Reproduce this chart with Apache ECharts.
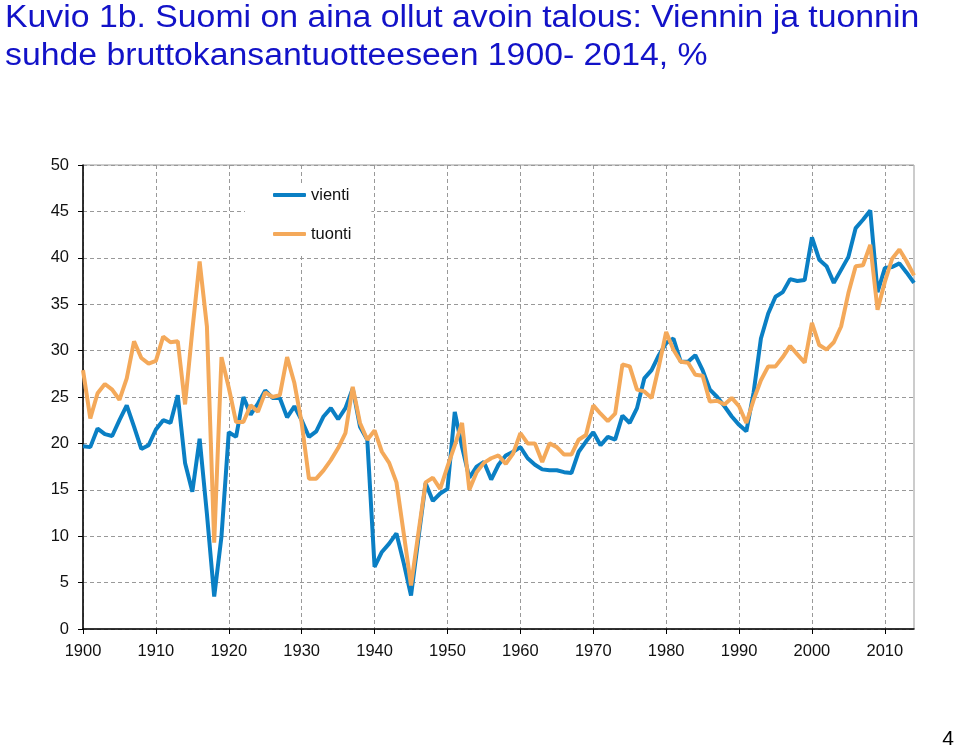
<!DOCTYPE html>
<html>
<head>
<meta charset="utf-8">
<script src="https://cdn.jsdelivr.net/npm/echarts@6/dist/echarts.min.js"></script>
<style>
html,body{margin:0;padding:0;background:#fff;}
#chart{width:960px;height:750px;}
</style>
</head>
<body>
<div id="chart"></div>
<script>
var titleLine1 = 'Kuvio 1b. Suomi on aina ollut avoin talous: Viennin ja tuonnin';
var titleLine2 = 'suhde bruttokansantuotteeseen 1900- 2014, %';
var seriesNames = ['vienti', 'tuonti'];
var firstYear = 1900, lastYear = 2014;
var years = [];
for (var y = firstYear; y <= lastYear; y++) years.push(String(y));

var vienti = [
  19.7, 19.6, 21.6, 21.0, 20.8, 22.5, 24.1, 21.8, 19.4, 19.8,
  21.5, 22.5, 22.2, 25.2, 17.9, 14.8, 20.5, 12.4, 3.5, 10.0,
  21.2, 20.7, 25.0, 23.1, 24.3, 25.7, 24.9, 24.9, 22.8, 24.0,
  22.5, 20.7, 21.3, 22.9, 23.8, 22.6, 23.8, 25.9, 21.8, 20.4,
  6.7, 8.3, 9.2, 10.3, 7.1, 3.6, 9.7, 15.7, 13.8, 14.6,
  15.1, 23.4, 19.6, 16.3, 17.5, 18.0, 16.1, 17.7, 18.7, 19.1,
  19.6, 18.4, 17.7, 17.2, 17.1, 17.1, 16.9, 16.8, 19.1, 20.2,
  21.2, 19.8, 20.7, 20.4, 23.0, 22.2, 23.8, 27.0, 27.9, 29.5,
  30.8, 31.3, 28.8, 28.8, 29.5, 27.9, 25.8, 25.0, 24.0, 22.9,
  22.0, 21.3, 25.5, 31.3, 34.0, 35.8, 36.3, 37.7, 37.5, 37.6,
  42.2, 39.8, 39.1, 37.3, 38.7, 40.1, 43.2, 44.1, 45.1, 36.3,
  38.9, 39.0, 39.4, 38.4, 37.3
];
var tuonti = [
  27.9, 22.7, 25.4, 26.4, 25.8, 24.7, 27.0, 31.0, 29.2, 28.6,
  28.9, 31.5, 30.9, 31.0, 24.2, 32.2, 39.6, 32.6, 9.3, 29.3,
  26.0, 22.3, 22.3, 24.1, 23.4, 25.5, 25.0, 25.2, 29.3, 26.5,
  22.2, 16.2, 16.2, 17.1, 18.2, 19.5, 21.1, 26.1, 22.2, 20.4,
  21.4, 19.1, 17.9, 15.8, 10.3, 4.7, 10.3, 15.8, 16.3, 15.1,
  17.5, 19.8, 22.2, 15.0, 16.9, 17.9, 18.4, 18.7, 17.8, 18.9,
  21.1, 20.0, 20.0, 18.0, 20.0, 19.6, 18.8, 18.8, 20.4, 20.9,
  24.1, 23.2, 22.4, 23.2, 28.5, 28.3, 25.8, 25.6, 24.9, 28.3,
  32.0, 30.1, 28.8, 28.7, 27.4, 27.3, 24.5, 24.6, 24.2, 24.9,
  24.0, 22.2, 24.7, 26.8, 28.3, 28.3, 29.3, 30.5, 29.6, 28.7,
  33.0, 30.6, 30.1, 30.9, 32.6, 36.2, 39.1, 39.2, 41.4, 34.4,
  37.4, 39.9, 40.9, 39.6, 38.1
];
var pageNumber = '4';

var FONT = '"Liberation Sans", Arial, sans-serif';
var chart = echarts.init(document.getElementById('chart'), null, {renderer: 'canvas'});
chart.setOption({
  backgroundColor: '#fff',
  animation: false,
  color: ['#0a7fc4', '#f4a95a'],
  graphic: [
    {type: 'text', x: 5, y: 3, scaleX: 1.09, style: {text: titleLine1, font: '31px ' + FONT, fill: '#1212c8', textVerticalAlign: 'top'}},
    {type: 'text', x: 5, y: 41, scaleX: 1.09, style: {text: titleLine2, font: '31px ' + FONT, fill: '#1212c8', textVerticalAlign: 'top'}},
    {type: 'text', right: 6, bottom: 0, style: {text: pageNumber, font: '21px ' + FONT, fill: '#000'}}
  ],
  grid: {left: 83, right: 46, top: 165, bottom: 121, show: true, borderColor: '#999', borderWidth: 1},
  legend: {
    orient: 'vertical', left: 245, top: 183,
    backgroundColor: '#fff',
    padding: [3, 20, 10, 28],
    itemGap: 21, itemWidth: 33, itemHeight: 4, icon: 'roundRect',
    textStyle: {fontFamily: FONT, fontSize: 16.5, color: '#111', lineHeight: 18},
    data: seriesNames
  },
  xAxis: {
    type: 'category', data: years, boundaryGap: false,
    axisLine: {lineStyle: {color: '#000', width: 1.5}},
    axisTick: {show: true, interval: 9, length: 5, lineStyle: {color: '#000'}},
    axisLabel: {interval: 9, margin: 14, fontFamily: FONT, fontSize: 16.5, color: '#111'},
    splitLine: {show: true, interval: 9, lineStyle: {color: '#999', type: [4, 3], width: 1}}
  },
  yAxis: {
    type: 'value', min: 0, max: 50, interval: 5,
    axisLine: {show: true, lineStyle: {color: '#000', width: 1.5}},
    axisTick: {show: true, length: 5, lineStyle: {color: '#000'}},
    axisLabel: {margin: 14, fontFamily: FONT, fontSize: 16.5, color: '#111'},
    splitLine: {show: true, lineStyle: {color: '#999', type: [4, 3], width: 1}}
  },
  series: [
    {name: seriesNames[0], type: 'line', data: vienti, symbol: 'none', lineStyle: {width: 4}},
    {name: seriesNames[1], type: 'line', data: tuonti, symbol: 'none', lineStyle: {width: 4}}
  ]
});
</script>
</body>
</html>
